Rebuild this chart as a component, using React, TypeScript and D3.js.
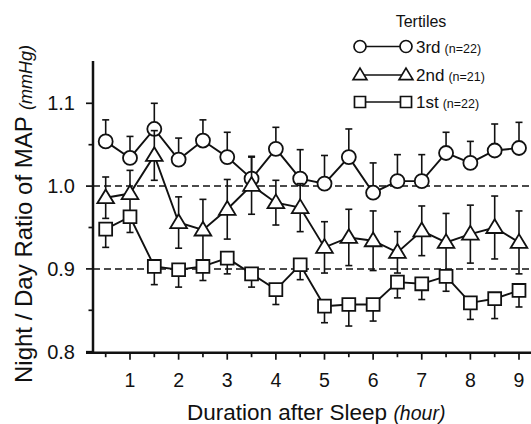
import React, { useEffect, useRef } from 'react';
import * as d3 from 'd3';

// hours after sleep onset, one point every half hour
const hours = [0.5, 1, 1.5, 2, 2.5, 3, 3.5, 4, 4.5, 5, 5.5, 6, 6.5, 7, 7.5, 8, 8.5, 9];

const third = [1.054, 1.034, 1.069, 1.032, 1.055, 1.035, 1.009, 1.045, 1.009, 1.003, 1.035, 0.992, 1.006, 1.006, 1.04, 1.028, 1.043, 1.046];
const thirdErr = [0.026, 0.026, 0.031, 0.026, 0.025, 0.03, 0.026, 0.026, 0.035, 0.034, 0.034, 0.036, 0.032, 0.032, 0.025, 0.026, 0.032, 0.031];

const second = [0.986, 0.991, 1.037, 0.956, 0.947, 0.972, 1.001, 0.98, 0.974, 0.926, 0.938, 0.934, 0.92, 0.946, 0.932, 0.942, 0.95, 0.932];
const secondErr = [0.025, 0.028, 0.03, 0.031, 0.037, 0.036, 0.035, 0.027, 0.029, 0.031, 0.034, 0.036, 0.025, 0.03, 0.035, 0.035, 0.038, 0.038];

const first = [0.948, 0.963, 0.903, 0.899, 0.903, 0.913, 0.894, 0.875, 0.905, 0.855, 0.857, 0.857, 0.884, 0.882, 0.891, 0.859, 0.864, 0.874];
const firstErr = [0.022, 0.019, 0.022, 0.021, 0.017, 0.019, 0.016, 0.018, 0.018, 0.02, 0.026, 0.02, 0.019, 0.019, 0.018, 0.02, 0.024, 0.02];

const xTicks = [1, 2, 3, 4, 5, 6, 7, 8, 9];
const xMinorTicks = [0.5, 1.5, 2.5, 3.5, 4.5, 5.5, 6.5, 7.5, 8.5];
const yTicks = [0.8, 0.9, 1.0, 1.1];
const yMinorTicks = [0.85, 0.95, 1.05];
const refLines = [0.9, 1.0];

const legendRows = [
  { shape: 'circle', label: '3rd', n: '(n=22)' },
  { shape: 'triangle', label: '2nd', n: '(n=21)' },
  { shape: 'square', label: '1st', n: '(n=22)' },
];

const FONT = '"Liberation Sans", Arial, Helvetica, sans-serif';
const INK = '#111';

function markerPath(shape: string, cx: number, cy: number, s: number) {
  if (shape === 'triangle') {
    const w = s * 1.15;
    const h = s * 0.95;
    return `M${cx},${cy - h * 0.6}L${cx + w / 2},${cy + h * 0.4}L${cx - w / 2},${cy + h * 0.4}Z`;
  }
  if (shape === 'square') {
    const h = s * 0.92;
    return `M${cx - h / 2},${cy - h / 2}h${h}v${h}h${-h}Z`;
  }
  const r = s / 2;
  return `M${cx - r},${cy}a${r},${r} 0 1,0 ${2 * r},0a${r},${r} 0 1,0 ${-2 * r},0Z`;
}

export default function App() {
  const ref = useRef<SVGSVGElement>(null);

  useEffect(() => {
    const svg = d3.select(ref.current);
    svg.selectAll('*').remove();

    const x = d3.scaleLinear().domain([1, 9]).range([130, 519]);
    const y = d3.scaleLinear().domain([0.8, 1.1]).range([351.7, 103.3]);
    const axisLeft = 93;
    const axisBottom = y(0.8) + 1;

    svg.append('rect').attr('width', 531).attr('height', 424).attr('fill', '#fff');

    // dashed reference lines
    svg
      .selectAll('line.ref')
      .data(refLines)
      .enter()
      .append('line')
      .attr('x1', axisLeft)
      .attr('x2', 531)
      .attr('y1', (d) => y(d))
      .attr('y2', (d) => y(d))
      .attr('stroke', INK)
      .attr('stroke-width', 1.5)
      .attr('stroke-dasharray', '7,4');

    // axes
    svg
      .append('line')
      .attr('x1', axisLeft)
      .attr('x2', axisLeft)
      .attr('y1', 61)
      .attr('y2', axisBottom + 1)
      .attr('stroke', INK)
      .attr('stroke-width', 2.5);
    svg
      .append('line')
      .attr('x1', 86)
      .attr('x2', 531)
      .attr('y1', axisBottom)
      .attr('y2', axisBottom)
      .attr('stroke', INK)
      .attr('stroke-width', 2.5);

    const ticks = svg.append('g').attr('stroke', INK).attr('stroke-width', 1.7);
    ticks
      .selectAll('line.xt')
      .data(xTicks)
      .enter()
      .append('line')
      .attr('x1', (d) => x(d))
      .attr('x2', (d) => x(d))
      .attr('y1', axisBottom)
      .attr('y2', axisBottom + 7);
    ticks
      .selectAll('line.xm')
      .data(xMinorTicks)
      .enter()
      .append('line')
      .attr('x1', (d) => x(d))
      .attr('x2', (d) => x(d))
      .attr('y1', axisBottom)
      .attr('y2', axisBottom + 4.5);
    ticks
      .selectAll('line.yt')
      .data(yTicks)
      .enter()
      .append('line')
      .attr('x1', axisLeft - 7)
      .attr('x2', axisLeft)
      .attr('y1', (d) => y(d))
      .attr('y2', (d) => y(d));
    ticks
      .selectAll('line.ym')
      .data(yMinorTicks)
      .enter()
      .append('line')
      .attr('x1', axisLeft - 4.5)
      .attr('x2', axisLeft)
      .attr('y1', (d) => y(d))
      .attr('y2', (d) => y(d));

    svg
      .selectAll('text.xl')
      .data(xTicks)
      .enter()
      .append('text')
      .attr('x', (d) => x(d))
      .attr('y', 387)
      .attr('text-anchor', 'middle')
      .attr('font-family', FONT)
      .attr('font-size', 19.5)
      .attr('fill', INK)
      .text((d) => d);
    svg
      .selectAll('text.yl')
      .data(yTicks)
      .enter()
      .append('text')
      .attr('x', 75)
      .attr('y', (d) => y(d) + 7)
      .attr('text-anchor', 'end')
      .attr('font-family', FONT)
      .attr('font-size', 20)
      .attr('fill', INK)
      .text((d) => d.toFixed(1));

    // axis titles
    const xTitle = svg
      .append('text')
      .attr('x', 187)
      .attr('y', 420)
      .attr('font-family', FONT)
      .attr('font-size', 22.5)
      .attr('fill', INK);
    xTitle.append('tspan').text('Duration after Sleep ');
    xTitle.append('tspan').attr('font-style', 'italic').attr('font-size', 19.5).text('(hour)');

    const yTitle = svg
      .append('text')
      .attr('transform', 'translate(32,383) rotate(-90)')
      .attr('font-family', FONT)
      .attr('font-size', 24)
      .attr('fill', INK);
    yTitle.append('tspan').text('Night / Day Ratio of MAP ');
    yTitle.append('tspan').attr('font-style', 'italic').attr('font-size', 18).text('(mmHg)');

    // series: circles show upper SE, squares lower SE, triangles both
    const series = [
      { values: third, err: thirdErr, shape: 'circle', up: true, down: false, size: 14 },
      { values: second, err: secondErr, shape: 'triangle', up: true, down: true, size: 14.5 },
      { values: first, err: firstErr, shape: 'square', up: false, down: true, size: 14 },
    ];

    const line = d3
      .line<number>()
      .x((_, i) => x(hours[i]))
      .y((d) => y(d));

    series.forEach((s) => {
      const g = svg.append('g');
      g.append('path')
        .attr('d', line(s.values))
        .attr('fill', 'none')
        .attr('stroke', INK)
        .attr('stroke-width', 1.9);

      const bars = g.append('g').attr('stroke', INK).attr('stroke-width', 1.6);
      s.values.forEach((v, i) => {
        const cx = x(hours[i]);
        const top = s.up ? v + s.err[i] : v;
        const bottom = s.down ? v - s.err[i] : v;
        bars
          .append('line')
          .attr('x1', cx)
          .attr('x2', cx)
          .attr('y1', y(top))
          .attr('y2', y(bottom));
        if (s.up) {
          bars.append('line').attr('x1', cx - 3.5).attr('x2', cx + 3.5).attr('y1', y(top)).attr('y2', y(top));
        }
        if (s.down) {
          bars.append('line').attr('x1', cx - 3.5).attr('x2', cx + 3.5).attr('y1', y(bottom)).attr('y2', y(bottom));
        }
      });

      g.selectAll('path.mk')
        .data(s.values)
        .enter()
        .append('path')
        .attr('d', (d, i) => markerPath(s.shape, x(hours[i]), y(d), s.size))
        .attr('fill', '#fff')
        .attr('stroke', INK)
        .attr('stroke-width', 1.8);
    });

    // legend
    const legend = svg.append('g').attr('font-family', FONT).attr('fill', INK);
    legend
      .append('text')
      .attr('x', 421)
      .attr('y', 27)
      .attr('text-anchor', 'middle')
      .attr('font-size', 16)
      .text('Tertiles');
    const rowY = [46.5, 75, 102];
    legendRows.forEach((r, i) => {
      const ly = rowY[i];
      legend
        .append('line')
        .attr('x1', 360)
        .attr('x2', 406)
        .attr('y1', ly)
        .attr('y2', ly)
        .attr('stroke', INK)
        .attr('stroke-width', 1.6);
      [360, 406].forEach((lx) => {
        legend
          .append('path')
          .attr('d', markerPath(r.shape, lx, ly, 12))
          .attr('fill', '#fff')
          .attr('stroke', INK)
          .attr('stroke-width', 1.7);
      });
      const t = legend.append('text').attr('x', 416).attr('y', ly + 6).attr('font-size', 17);
      t.append('tspan').text(r.label);
      t.append('tspan').attr('dx', 4).attr('font-size', 12.5).text(r.n);
    });
  }, []);

  return (
    <svg
      ref={ref}
      width={531}
      height={424}
      style={{ position: 'absolute', left: 0, top: 0, display: 'block' }}
    />
  );
}
